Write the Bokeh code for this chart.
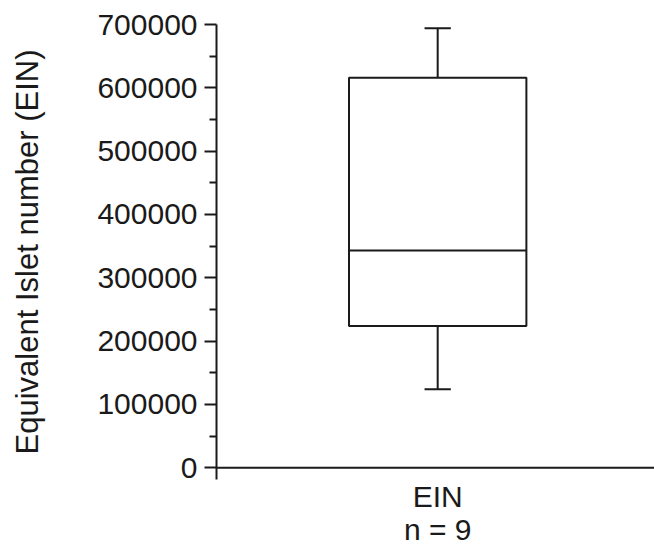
from bokeh.plotting import figure
from bokeh.models import Range1d, FixedTicker, Span, ColumnDataSource
from bokeh.embed import file_html
from bokeh.resources import INLINE

# Box-plot summary for the equivalent islet number
categories = ["EIN"]
n_samples = [9]
whisker_low = [124000]
q1 = [224000]
median = [343000]
q3 = [616000]
whisker_high = [694000]

y_ticks = [0, 100000, 200000, 300000, 400000, 500000, 600000, 700000]
y_tick_labels = ["0", "100000", "200000", "300000", "400000", "500000", "600000", "700000"]
y_title = "Equivalent Islet number (EIN)"

FONT = "Liberation Sans"
INK = "#1a1a1a"
BOX_WIDTH = 0.405
CAP_WIDTH = 0.06

centers = [i + 0.5 for i in range(len(categories))]
src = ColumnDataSource(dict(
    x=centers,
    lo=whisker_low, q1=q1, med=median, q3=q3, hi=whisker_high,
    cap_l=[c - CAP_WIDTH / 2 for c in centers],
    cap_r=[c + CAP_WIDTH / 2 for c in centers],
    box_l=[c - BOX_WIDTH / 2 for c in centers],
    box_r=[c + BOX_WIDTH / 2 for c in centers],
))

p = figure(width=654, height=548, output_backend="svg", toolbar_location=None,
           x_range=Range1d(-0.005, len(categories) - 0.005),
           y_range=Range1d(-18500, 700000),
           min_border_left=216, min_border_right=0, min_border_top=24,
           min_border_bottom=69)
p.outline_line_color = None
p.grid.visible = False
p.background_fill_color = "white"
p.border_fill_color = "white"

# whisker stems and caps
p.segment(x0="x", y0="lo", x1="x", y1="q1", source=src, line_color=INK, line_width=2)
p.segment(x0="x", y0="q3", x1="x", y1="hi", source=src, line_color=INK, line_width=2)
p.segment(x0="cap_l", y0="lo", x1="cap_r", y1="lo", source=src, line_color=INK, line_width=2)
p.segment(x0="cap_l", y0="hi", x1="cap_r", y1="hi", source=src, line_color=INK, line_width=2)
# box and median
p.quad(left="box_l", right="box_r", bottom="q1", top="q3", source=src,
       fill_color="white", line_color=INK, line_width=2)
p.segment(x0="box_l", y0="med", x1="box_r", y1="med", source=src, line_color=INK, line_width=2)

# baseline at zero
p.add_layout(Span(location=0, dimension="width", line_color=INK, line_width=2))

# y axis
minor = [(a + b) / 2 for a, b in zip(y_ticks[:-1], y_ticks[1:])]
p.yaxis.ticker = FixedTicker(ticks=y_ticks, minor_ticks=minor)
p.yaxis.major_label_overrides = {t: s for t, s in zip(y_ticks, y_tick_labels)}
p.yaxis.axis_label = y_title
p.yaxis.axis_label_text_font = FONT
p.yaxis.axis_label_text_font_size = "31px"
p.yaxis.axis_label_text_font_style = "normal"
p.yaxis.axis_label_text_color = INK
p.yaxis.axis_label_standoff = 49
p.yaxis.major_label_text_font = FONT
p.yaxis.major_label_text_font_size = "30px"
p.yaxis.major_label_text_color = INK
p.yaxis.major_label_standoff = 7
p.yaxis.axis_line_color = INK
p.yaxis.axis_line_width = 2
p.yaxis.major_tick_line_color = INK
p.yaxis.major_tick_line_width = 2
p.yaxis.major_tick_in = 0
p.yaxis.major_tick_out = 12
p.yaxis.minor_tick_line_color = INK
p.yaxis.minor_tick_line_width = 2
p.yaxis.minor_tick_in = 0
p.yaxis.minor_tick_out = 7

# x axis: category name with sample size
p.xaxis.ticker = FixedTicker(ticks=centers)
p.xaxis.major_label_overrides = {c: f"{cat}\nn = {n}" for c, cat, n in zip(centers, categories, n_samples)}
p.xaxis.major_label_text_font = FONT
p.xaxis.major_label_text_font_size = "30px"
p.xaxis.major_label_text_line_height = 1.0
p.xaxis.major_label_text_color = INK
p.xaxis.major_label_standoff = 0
p.xaxis.axis_line_color = None
p.xaxis.major_tick_line_color = None
p.xaxis.minor_tick_line_color = None
p.xaxis.major_tick_out = 0
p.xaxis.major_tick_in = 0

open("out.html", "w").write(file_html(p, INLINE))
